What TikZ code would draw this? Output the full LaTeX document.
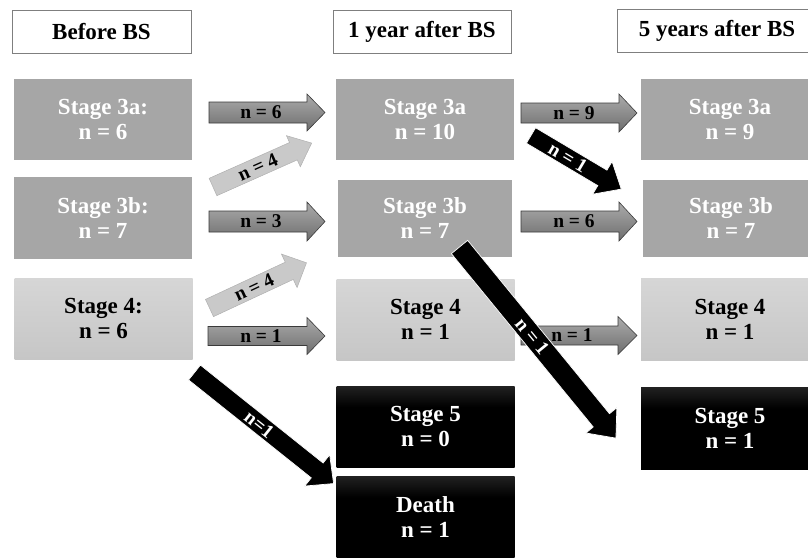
\documentclass[tikz,border=0pt]{standalone}
\usepackage{fontspec}
\setmainfont{Liberation Serif}
\definecolor{s3gray}{HTML}{A6A6A6}
\definecolor{s4top}{HTML}{D6D6D6}
\definecolor{s4bot}{HTML}{C6C6C6}
\definecolor{hdrline}{HTML}{7F7F7F}
\definecolor{garrowtop}{HTML}{ABABAB}
\definecolor{garrowbot}{HTML}{6E6E6E}
\definecolor{arrowedge}{HTML}{3A3A3A}
\definecolor{lightfill}{HTML}{C9C9C9}
\definecolor{lightedge}{HTML}{B0B0B0}
\pgfdeclareverticalshading{blackbox}{100bp}{color(0bp)=(black); color(62bp)=(black); color(100bp)=(black!62)}
\tikzset{
 box/.style={minimum width=178pt, minimum height=81pt, inner sep=0pt, align=center,
   font=\fontsize{23}{25}\selectfont\bfseries},
 hdr/.style={draw=hdrline, line width=0.9pt, fill=white, minimum height=43pt, inner sep=0pt,
   font=\fontsize{23}{25}\selectfont\bfseries},
 sthree/.style={box, fill=s3gray, text=white},
 sfour/.style={box, top color=s4top, bottom color=s4bot, text=black},
 sfive/.style={box, shading=blackbox, text=white},
 garrow/.style={draw=arrowedge, line width=0.6pt, top color=garrowtop, bottom color=garrowbot},
 larrow/.style={draw=lightedge, line width=0.5pt, fill=lightfill},
 karrow/.style={draw=white, line width=0.7pt, fill=black},
 albl/.style={font=\fontsize{19.5}{19.5}\selectfont\bfseries, inner sep=0pt, transform shape, text=black},
 wlbl/.style={albl, text=white},
}
% #1,#2 tail centre, #3 angle, #4 length, #5 body half width, #6 head half width,
% #7 head length, #8 style, #9 label node
\newcommand\blockarr[9]{%
  \begin{scope}[shift={(#1,#2)}, rotate=#3]
    \path[#8] (0,-#5) -- ({#4-#7},-#5) -- ({#4-#7},-#6) -- (#4,0) -- ({#4-#7},#6)
      -- ({#4-#7},#5) -- (0,#5) -- cycle;
    #9
  \end{scope}}
\begin{document}
\begin{tikzpicture}[x=1pt,y=-1pt]
\useasboundingbox (0,0) rectangle (808,557);
% headers
\node[hdr, minimum width=179pt] (h1) at (101.5,31.5) {Before BS};
\node[hdr, minimum width=178pt] (h2) at (422,31.5) {1 year after BS};
\node[hdr, minimum width=200pt] (h3) at (717,31) {5 years after BS};
% column 1
\node[sthree] (c1a) at (103,119.5) {Stage 3a:\\n = 6};
\node[sthree, minimum height=82pt] (c1b) at (103,218) {Stage 3b:\\n = 7};
\node[sfour] (c1c) at (103.5,318.5) {Stage 4:\\n = 6};
% column 2
\node[sthree] (c2a) at (425,119.5) {Stage 3a\\n = 10};
\node[sthree, minimum width=174pt, minimum height=77pt] (c2b) at (425,218.5) {Stage 3b\\n = 7};
\node[sfour] (c2c) at (425.5,319.5) {Stage 4\\n = 1};
\node[sfive] (c2d) at (425.5,426.5) {Stage 5\\n = 0};
\node[sfive, minimum height=82pt] (c2e) at (425.5,517) {Death\\n = 1};
% column 3
\node[sthree] (c3a) at (730,119.5) {Stage 3a\\n = 9};
\node[sthree, minimum width=176pt, minimum height=77pt] (c3b) at (731,218.5) {Stage 3b\\n = 7};
\node[sfour, minimum height=82pt] (c3c) at (730,319) {Stage 4\\n = 1};
\node[sfive, minimum height=82pt] (c3d) at (730,428) {Stage 5\\n = 1};
% arrows column 1 -> column 2
\blockarr{209}{112.5}{0}{116}{10.5}{18.5}{18}{garrow}{\node[albl] (l1) at (52,0) {n = 6};}
\blockarr{213}{187}{24}{108}{9.5}{17}{20}{larrow}{\node[albl] (l2) at (49,0) {n = 4};}
\blockarr{209}{221.5}{0}{116}{10.5}{19.5}{18}{garrow}{\node[albl] (l3) at (52,0) {n = 3};}
\blockarr{209.5}{308}{25}{107}{9.5}{18.5}{19}{larrow}{\node[albl] (l4) at (49,0) {n = 4};}
\blockarr{208}{336}{0}{117}{9.5}{18.5}{18}{garrow}{\node[albl] (l5) at (53,0) {n = 1};}
\blockarr{194.5}{372.5}{-38.6}{178}{9.5}{20}{21}{karrow}{\node[wlbl] (l6) at (83,0) {n=1};}
% arrows column 2 -> column 3
\blockarr{521}{113}{0}{116}{10}{19}{18}{garrow}{\node[albl] (l7) at (53,0) {n = 9};}
\blockarr{531}{135.5}{-30.7}{105}{9}{19}{22}{karrow}{\node[wlbl] (l8) at (43,0) {n = 1};}
\blockarr{521}{221.5}{0}{116}{10.5}{19.5}{18}{garrow}{\node[albl] (l9) at (53,0) {n = 6};}
\blockarr{521}{335.5}{0}{116}{9.5}{19}{19}{garrow}{\node[albl] (l10) at (51,0) {n = 1};}
\blockarr{459.5}{247}{-50.7}{247}{10.5}{20}{23}{karrow}{\node[wlbl] (l11) at (115,0) {n = 1};}
\end{tikzpicture}
\end{document}
